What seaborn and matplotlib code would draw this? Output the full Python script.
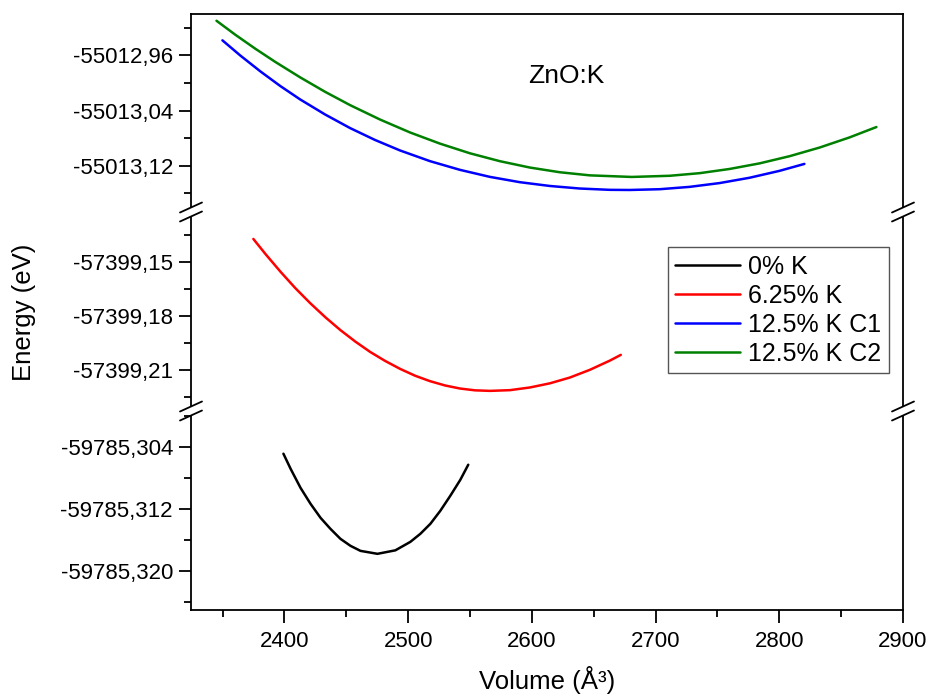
import matplotlib
matplotlib.use("Agg")
import matplotlib.pyplot as plt
import pandas as pd
import seaborn as sns
from matplotlib.lines import Line2D
from matplotlib.ticker import FixedLocator, FuncFormatter, MultipleLocator

# values
vol_0 = [2399.2, 2405.0, 2413.0, 2421.1, 2429.2, 2437.2, 2445.3, 2453.4, 2461.5,
         2475.2, 2489.7, 2501.8, 2509.9, 2518.0, 2526.0, 2534.1, 2542.2, 2548.6]
e_0 = [-59785.30486, -59785.30680, -59785.30925, -59785.31131, -59785.31312,
       -59785.31454, -59785.31583, -59785.31673, -59785.31738, -59785.31776,
       -59785.31731, -59785.31622, -59785.31518, -59785.31389, -59785.31222,
       -59785.31028, -59785.30822, -59785.30628]

vol_625 = [2374.9, 2384.6, 2396.7, 2408.8, 2420.9, 2433.1, 2445.2, 2457.3, 2469.4,
           2481.5, 2493.6, 2505.7, 2517.7, 2529.9, 2542.0, 2554.1, 2566.2, 2582.3,
           2598.5, 2614.6, 2630.7, 2646.9, 2663.0, 2671.9]
e_625 = [-57399.1372, -57399.1455, -57399.1553, -57399.1645, -57399.1729, -57399.1807,
         -57399.1878, -57399.1942, -57399.2000, -57399.2050, -57399.2094, -57399.2132,
         -57399.2162, -57399.2186, -57399.2203, -57399.2213, -57399.2216, -57399.2212,
         -57399.2197, -57399.2174, -57399.2142, -57399.2099, -57399.2048, -57399.2016]

vol_c1 = [2349.9, 2364.4, 2380.6, 2396.6, 2412.7, 2432.9, 2453.1, 2473.3, 2493.5,
          2517.7, 2541.9, 2566.1, 2590.3, 2614.6, 2638.8, 2663.0, 2679.1, 2703.3,
          2727.5, 2751.7, 2775.9, 2800.1, 2820.3]
e_c1 = [-55012.9382, -55012.9603, -55012.9833, -55013.0044, -55013.0239, -55013.0458,
        -55013.0655, -55013.0828, -55013.0980, -55013.1135, -55013.1261, -55013.1363,
        -55013.1440, -55013.1495, -55013.1532, -55013.1551, -55013.1553, -55013.1542,
        -55013.1508, -55013.1453, -55013.1376, -55013.1276, -55013.1175]

vol_c2 = [2345.1, 2360.4, 2376.5, 2392.7, 2412.9, 2433.1, 2453.2, 2477.4, 2501.6,
          2525.8, 2550.0, 2574.3, 2598.5, 2622.7, 2646.9, 2680.8, 2711.5, 2735.7,
          2759.9, 2784.1, 2808.3, 2832.5, 2856.7, 2878.5]
e_c2 = [-55012.9098, -55012.9302, -55012.9504, -55012.9696, -55012.9921, -55013.0131,
        -55013.0323, -55013.0532, -55013.0719, -55013.0881, -55013.1021, -55013.1136,
        -55013.1228, -55013.1296, -55013.1341, -55013.1364, -55013.1347, -55013.1309,
        -55013.1248, -55013.1167, -55013.1063, -55013.0938, -55013.0791, -55013.0640]

labels = ["0% K", "6.25% K", "12.5% K C1", "12.5% K C2"]
colors = ["#000000", "#ff0000", "#0000ff", "#008000"]

top_ticks = [-55012.96, -55013.04, -55013.12]
mid_ticks = [-57399.15, -57399.18, -57399.21]
bot_ticks = [-59785.304, -59785.312, -59785.320]

sns.set_style("ticks")
plt.rcParams["font.family"] = ["Liberation Sans", "DejaVu Sans"]
plt.rcParams.update({"text.color": "black", "axes.labelcolor": "black",
                     "xtick.color": "black", "ytick.color": "black",
                     "axes.edgecolor": "black"})

frames = []
for lab, v, e in zip(labels, [vol_0, vol_625, vol_c1, vol_c2], [e_0, e_625, e_c1, e_c2]):
    frames.append(pd.DataFrame({"volume": v, "energy": e, "series": lab}))
df = pd.concat(frames, ignore_index=True)
palette = dict(zip(labels, colors))

W, H = 929, 698
fig = plt.figure(figsize=(W / 100, H / 100), dpi=100)


def px_axes(top, bottom):
    return fig.add_axes([191 / W, 1 - bottom / H, (903 - 191) / W, (bottom - top) / H])


ax_top = px_axes(14, 207)
ax_mid = px_axes(217, 406)
ax_bot = px_axes(416, 610)

panels = [
    (ax_top, ["12.5% K C1", "12.5% K C2"], (-55013.18, -55012.9), top_ticks, 0.04, 2),
    (ax_mid, ["6.25% K"], (-57399.23, -57399.125), mid_ticks, 0.015, 2),
    (ax_bot, ["0% K"], (-59785.325, -59785.3), bot_ticks, 0.004, 3),
]

for ax, series, ylim, ticks, minor, dec in panels:
    sub = df[df["series"].isin(series)]
    sns.lineplot(data=sub, x="volume", y="energy", hue="series", palette=palette,
                 estimator=None, sort=False, linewidth=1.8, legend=False, ax=ax)
    ax.set_xlim(2324.5, 2900)
    ax.set_ylim(*ylim)
    ax.yaxis.set_major_locator(FixedLocator(ticks))
    ax.yaxis.set_minor_locator(MultipleLocator(minor))
    ax.yaxis.set_major_formatter(
        FuncFormatter(lambda y, p, d=dec: f"{y:.{d}f}".replace(".", ",")))
    ax.tick_params(axis="y", which="major", length=9, width=1.3, labelsize=16, pad=4,
                   direction="out")
    ax.tick_params(axis="y", which="minor", length=5, width=1.3, direction="out")
    ax.set_xlabel("")
    ax.set_ylabel("")
    for s in ax.spines.values():
        s.set_linewidth(1.3)
        s.set_color("black")
    ax.spines["right"].set_visible(True)
    ax.spines["top"].set_visible(ax is ax_top)
    ax.spines["bottom"].set_visible(ax is ax_bot)
    if ax is not ax_bot:
        ax.tick_params(axis="x", which="both", bottom=False, labelbottom=False)

ax_bot.xaxis.set_major_locator(MultipleLocator(100))
ax_bot.xaxis.set_minor_locator(MultipleLocator(50))
ax_bot.tick_params(axis="x", which="major", length=9, width=1.3, labelsize=16, pad=6)
ax_bot.tick_params(axis="x", which="minor", length=5, width=1.3)

# axis break marks on both vertical spines
for yc in (212, 411):
    for xs in (191, 903):
        for dy in (-4.5, 4.5):
            fig.add_artist(Line2D(
                [(xs - 11) / W, (xs + 11) / W],
                [1 - (yc + dy + 5) / H, 1 - (yc + dy - 5) / H],
                color="black", linewidth=1.3))

fig.text(566 / W, 1 - 76 / H, "ZnO:K", fontsize=19, ha="center", va="center")
fig.text(24 / W, 1 - 312 / H, "Energy (eV)", fontsize=18.5, rotation=90,
         ha="center", va="center")
fig.text(547 / W, 1 - 680 / H, "Volume (Å³)", fontsize=18.5, ha="center", va="center")

handles = [Line2D([], [], color=c, linewidth=1.8) for c in colors]
leg = fig.legend(handles, labels, loc="upper left",
                 bbox_to_anchor=(668 / W, 1 - 247 / H), fontsize=18,
                 frameon=True, fancybox=False, framealpha=1, edgecolor="#555555",
                 handlelength=2.6, handletextpad=0.3, labelspacing=0.2,
                 borderpad=0.3, borderaxespad=0)
leg.get_frame().set_linewidth(1.0)

fig.savefig("out.png", dpi=100)
